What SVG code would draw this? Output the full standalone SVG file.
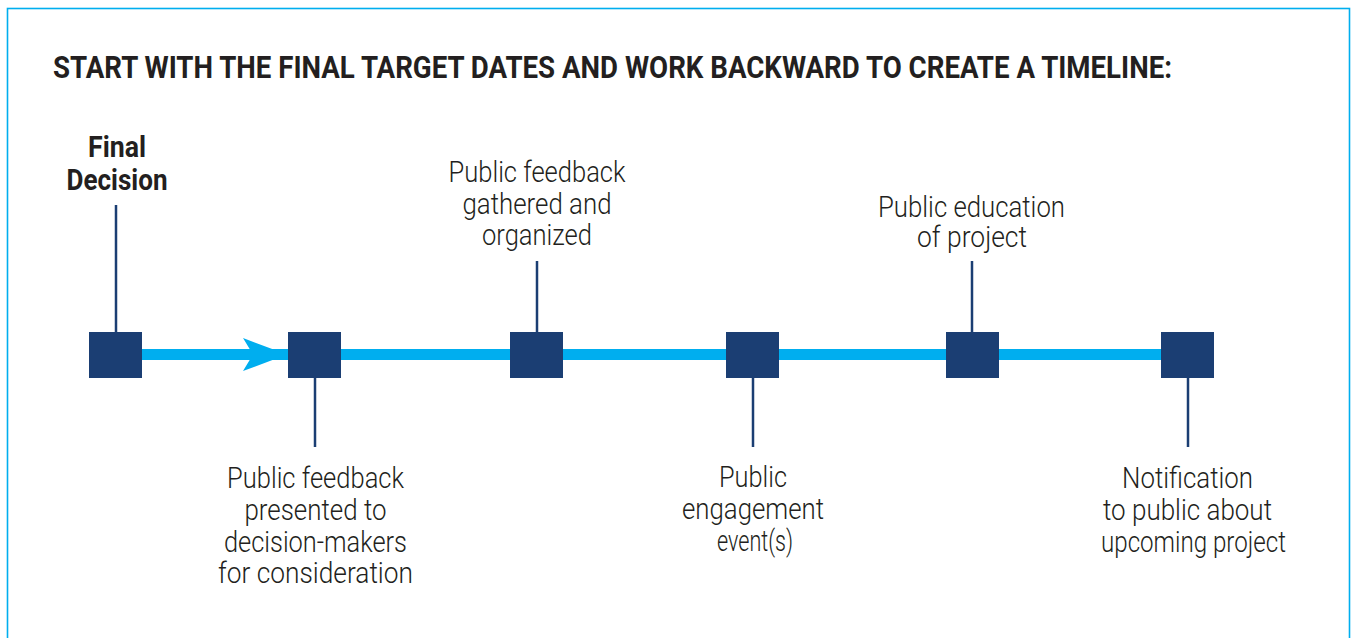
<svg xmlns="http://www.w3.org/2000/svg" width="1352" height="638" viewBox="0 0 1352 638">
<style>
.t{font-family:Roboto,"Liberation Sans",sans-serif;font-size:30px;font-weight:300;fill:#231f20;text-anchor:middle}
.b{font-family:Roboto,"Liberation Sans",sans-serif;font-weight:700;fill:#231f20}
.sq{fill:#1b3e73}
.tick{stroke:#1b3e73;stroke-width:2.5}
</style>
<rect width="1352" height="638" fill="#ffffff"/>
<rect x="7.5" y="8.5" width="1342" height="660" fill="none" stroke="#00aeef" stroke-width="1.6"/>
<text class="b" x="53" y="78" font-size="31" textLength="1119" lengthAdjust="spacingAndGlyphs">START WITH THE FINAL TARGET DATES AND WORK BACKWARD TO CREATE A TIMELINE:</text>
<g id="connectors">
<rect x="142" y="349" width="1019" height="11" fill="#00aeef"/>
<polygon points="287,354.5 243,338 253,354.5 243,371" fill="#00aeef"/>
<line class="tick" x1="116" y1="205" x2="116" y2="332"/>
<line class="tick" x1="315" y1="378" x2="315" y2="447"/>
<line class="tick" x1="537" y1="261" x2="537" y2="332"/>
<line class="tick" x1="753" y1="378" x2="753" y2="447"/>
<line class="tick" x1="972" y1="261" x2="972" y2="332"/>
<line class="tick" x1="1188" y1="378" x2="1188" y2="447"/>
</g>
<g id="n1">
<rect class="sq" x="89" y="332" width="53" height="46"/>
<text class="b" x="117" y="157" font-size="30" text-anchor="middle" textLength="58" lengthAdjust="spacingAndGlyphs">Final</text>
<text class="b" x="117" y="190" font-size="30" text-anchor="middle" textLength="101" lengthAdjust="spacingAndGlyphs">Decision</text>
</g>
<g id="n2">
<rect class="sq" x="288" y="332" width="53" height="46"/>
<text class="t" x="315.5" y="488" textLength="177" lengthAdjust="spacingAndGlyphs">Public feedback</text>
<text class="t" x="315.5" y="520" textLength="142" lengthAdjust="spacingAndGlyphs">presented to</text>
<text class="t" x="315.5" y="552" textLength="183" lengthAdjust="spacingAndGlyphs">decision-makers</text>
<text class="t" x="315.5" y="583" textLength="195" lengthAdjust="spacingAndGlyphs">for consideration</text>
</g>
<g id="n3">
<rect class="sq" x="510" y="332" width="53" height="46"/>
<text class="t" x="537" y="182" textLength="177" lengthAdjust="spacingAndGlyphs">Public feedback</text>
<text class="t" x="537" y="214" textLength="149" lengthAdjust="spacingAndGlyphs">gathered and</text>
<text class="t" x="537" y="245" textLength="110" lengthAdjust="spacingAndGlyphs">organized</text>
</g>
<g id="n4">
<rect class="sq" x="726" y="332" width="53" height="46"/>
<text class="t" x="753" y="487" textLength="68" lengthAdjust="spacingAndGlyphs">Public</text>
<text class="t" x="753" y="519" textLength="142" lengthAdjust="spacingAndGlyphs">engagement</text>
<text class="t" x="755" y="551" textLength="76" lengthAdjust="spacingAndGlyphs">event(s)</text>
</g>
<g id="n5">
<rect class="sq" x="946" y="332" width="53" height="46"/>
<text class="t" x="971.5" y="217" textLength="187" lengthAdjust="spacingAndGlyphs">Public education</text>
<text class="t" x="972" y="247" textLength="110" lengthAdjust="spacingAndGlyphs">of project</text>
</g>
<g id="n6">
<rect class="sq" x="1161" y="332" width="53" height="46"/>
<text class="t" x="1187.5" y="488" textLength="131" lengthAdjust="spacingAndGlyphs">Notification</text>
<text class="t" x="1187.5" y="520" textLength="169" lengthAdjust="spacingAndGlyphs">to public about</text>
<text class="t" x="1193.5" y="552" textLength="185" lengthAdjust="spacingAndGlyphs">upcoming project</text>
</g>
</svg>
